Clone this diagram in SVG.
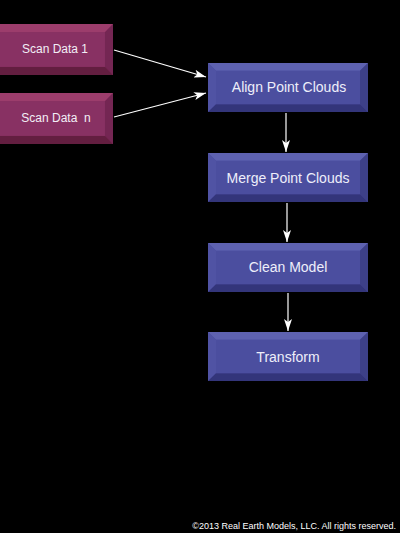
<svg xmlns="http://www.w3.org/2000/svg" width="400" height="533" viewBox="0 0 400 533">
<defs>
<style>
.lbl{font-family:"Liberation Sans",Arial,sans-serif;font-size:14px;fill:#eeeefa;text-anchor:middle}
.lbs{font-family:"Liberation Sans",Arial,sans-serif;font-size:12px;fill:#f2eef6;text-anchor:middle}
.cp{font-family:"Liberation Sans",Arial,sans-serif;font-size:9px;fill:#ffffff;text-anchor:end}
.con{stroke:#ffffff;stroke-width:1.2;fill:none}
</style>
<marker id="ah" viewBox="0 0 12 8" refX="12" refY="4" markerWidth="12" markerHeight="8" markerUnits="userSpaceOnUse" orient="auto">
<path d="M0,0 L12,4 L0,8 L3,4 Z" fill="#ffffff"/>
</marker>
<symbol id="blue" viewBox="0 0 160 50" preserveAspectRatio="none">
<rect x="0" y="0" width="160" height="50" fill="#4a4d9c"/>
<polygon points="0,0 160,0 152,8 8,8" fill="#5e62b0"/>
<polygon points="0,0 8,8 8,42 0,50" fill="#5053a4"/>
<polygon points="160,0 160,50 152,42 152,8" fill="#3d4088"/>
<polygon points="0,50 160,50 152,42 8,42" fill="#33357a"/>
<rect x="8" y="8" width="144" height="34" fill="#4b4e9f"/>
</symbol>
<symbol id="pink" viewBox="0 0 160 50" preserveAspectRatio="none">
<rect x="0" y="0" width="160" height="50" fill="#86305e"/>
<polygon points="0,0 160,0 152,8 8,8" fill="#9c3d6c"/>
<polygon points="0,0 8,8 8,42 0,50" fill="#8f3564"/>
<polygon points="160,0 160,50 152,42 152,8" fill="#742653"/>
<polygon points="0,50 160,50 152,42 8,42" fill="#631e40"/>
<rect x="8" y="8" width="144" height="34" fill="#883163"/>
</symbol>
</defs>
<rect width="400" height="533" fill="#000000"/>
<g id="connectors">
<line class="con" x1="114" y1="50" x2="206" y2="77" marker-end="url(#ah)"/>
<line class="con" x1="114" y1="117" x2="206" y2="93" marker-end="url(#ah)"/>
<line class="con" x1="286" y1="113" x2="286" y2="152" marker-end="url(#ah)"/>
<line class="con" x1="287" y1="203" x2="287" y2="242" marker-end="url(#ah)"/>
<line class="con" x1="288" y1="293" x2="288" y2="331" marker-end="url(#ah)"/>
</g>
<g id="scan1">
<use href="#pink" x="-48" y="24" width="161" height="51"/>
<text class="lbs" x="55" y="53">Scan Data 1</text>
</g>
<g id="scann">
<use href="#pink" x="-48" y="93" width="161" height="51"/>
<text class="lbs" x="56" y="122" xml:space="preserve">Scan Data  n</text>
</g>
<g id="align">
<use href="#blue" x="208" y="63" width="160" height="49"/>
<text class="lbl" x="289" y="92">Align Point Clouds</text>
</g>
<g id="merge">
<use href="#blue" x="208" y="153" width="160" height="49"/>
<text class="lbl" x="288" y="183">Merge Point Clouds</text>
</g>
<g id="clean">
<use href="#blue" x="208" y="243" width="160" height="49"/>
<text class="lbl" x="288" y="272">Clean Model</text>
</g>
<g id="transform">
<use href="#blue" x="208" y="332" width="160" height="49"/>
<text class="lbl" x="288" y="362">Transform</text>
</g>
<text class="cp" x="396" y="529">©2013 Real Earth Models, LLC. All rights reserved.</text>
</svg>
